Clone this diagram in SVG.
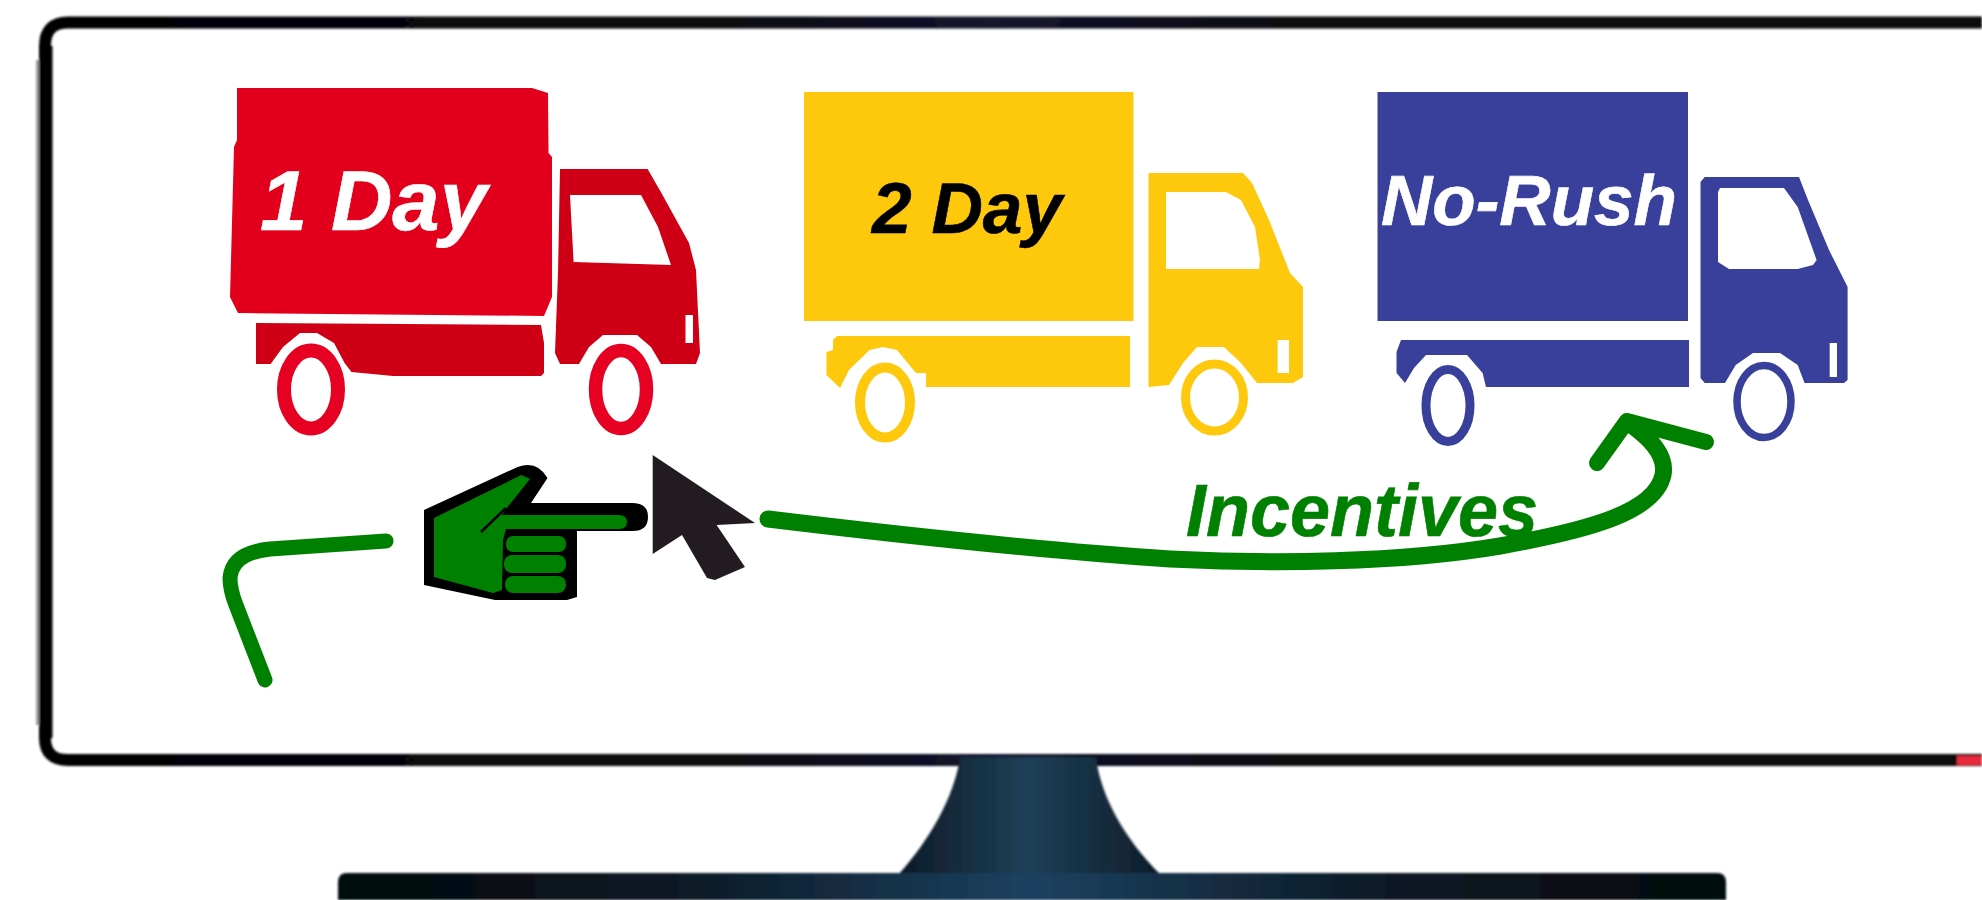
<svg xmlns="http://www.w3.org/2000/svg" width="1982" height="900" viewBox="0 0 1982 900">
<style>
.red{fill:#e2001a}.redd{fill:#cf0012}.yel{fill:#fec80f}.blu{fill:#37409c}
.win{fill:#fff}
.wr{fill:none;stroke:#e60022}.wy{fill:none;stroke:#fec80f}.wb{fill:none;stroke:#37409c}
text{font-family:"Liberation Sans",Arial,sans-serif;font-style:italic;font-weight:bold;text-rendering:geometricPrecision;stroke-width:0.6}
.conn{fill:none;stroke:#008000;stroke-linecap:round;stroke-linejoin:round}
.soft{filter:url(#b1)}.softer{filter:url(#b2)}
</style>
<defs>
<filter id="b1" x="-5%" y="-5%" width="110%" height="110%"><feGaussianBlur stdDeviation="0.7"/></filter>
<filter id="b2" x="-5%" y="-20%" width="110%" height="140%"><feGaussianBlur stdDeviation="1.3"/></filter>
<linearGradient id="foot" x1="338" x2="1726" y1="0" y2="0" gradientUnits="userSpaceOnUse">
<stop offset="0" stop-color="#04070a"/><stop offset="0.25" stop-color="#0b1a26"/><stop offset="0.5" stop-color="#1d4160"/><stop offset="0.75" stop-color="#0c1a26"/><stop offset="1" stop-color="#05080c"/>
</linearGradient>
<linearGradient id="neck" x1="898" x2="1161" y1="0" y2="0" gradientUnits="userSpaceOnUse">
<stop offset="0" stop-color="#0d1a26"/><stop offset="0.5" stop-color="#1e4058"/><stop offset="1" stop-color="#0e1c28"/>
</linearGradient>
<linearGradient id="frame" x1="0" x2="1982" y1="0" y2="0" gradientUnits="userSpaceOnUse">
<stop offset="0" stop-color="#050505"/><stop offset="0.35" stop-color="#08080c"/><stop offset="0.5" stop-color="#14142e"/><stop offset="0.65" stop-color="#0a0a10"/><stop offset="1" stop-color="#0c0c0c"/>
</linearGradient>
</defs>
<rect width="1982" height="900" fill="#fff"/>
<g id="monitor" class="softer">
<rect x="36" y="60" width="5" height="665" fill="#999"/>
<path d="M1982,22.5 H68 Q45,22.5 45,46 V738 Q45,760 68,760 H1982" fill="none" stroke="url(#frame)" stroke-width="12"/>
<line x1="46" y1="46" x2="46" y2="738" stroke="#050505" stroke-width="13"/>
<path d="M960,757 H1096 C1100,795 1125,840 1161,875 L1161,900 H898 V875 C930,840 955,795 960,757 Z" fill="url(#neck)"/>
<path d="M338,900 V882 Q338,873 347,873 H1717 Q1726,873 1726,882 V900 Z" fill="url(#foot)"/>
<rect x="1957" y="756" width="25" height="9" fill="#e8293c"/>
</g>
<g id="truck-1" class="soft">
<polygon class="red" points="237,88 532,88 548,93 548.5,153 552,157 552,297 544,316 238,313 230,297 231,260 234,147 237,140"/>
<polygon class="redd" points="256,323 541,325 544,343 544,373 541,376 393,376 351.5,372 344.6,363 334,343 317,333 300,333 283,347 270.6,364 256,364"/>
<polygon class="redd" points="560,169 647.6,169 661.4,193 689,243 696,270 700,353 696,364 661,364 651,347 637,335 603,335 589,347 579,364 560,364 555,353 558,273"/>
<polygon class="win" points="570,195 641,195 658,227 671,265 573.6,262"/>
<rect class="win" x="685.5" y="315" width="7.5" height="28"/>
<ellipse class="wr" cx="311" cy="389.5" rx="27" ry="39" stroke-width="14"/>
<ellipse class="wr" cx="621" cy="389.5" rx="25.5" ry="39" stroke-width="13.5"/>
<text x="260" y="230" font-size="85" fill="#fff" stroke="#fff" textLength="227" lengthAdjust="spacingAndGlyphs">1 Day</text>
</g>
<g id="truck-2" class="soft">
<rect class="yel" x="804" y="92" width="329.5" height="229"/>
<polygon class="yel" points="837,336 1130,336 1130,387 926,387 926,373 916,373 897,350 883,347 869.5,350 849,370 840,388 826.5,375 826.5,352 833,350 833,340"/>
<polygon class="yel" points="1148.5,173 1243,173 1252,183 1269,220 1290,273 1303,287 1303,377 1293,383 1257,383 1241,363 1224,347 1197,347 1183,363 1169,385 1148.5,387"/>
<polygon class="win" points="1166,192 1226,192 1241,200 1255,227 1260,260 1259,269 1166,269"/>
<rect class="win" x="1277.6" y="340" width="11.4" height="33"/>
<ellipse class="wy" cx="885" cy="402.5" rx="25" ry="35" stroke-width="10"/>
<ellipse class="wy" cx="1214.5" cy="397.5" rx="29" ry="33.5" stroke-width="9"/>
<text x="872" y="233" font-size="72" fill="#000" stroke="#000" textLength="190" lengthAdjust="spacingAndGlyphs">2 Day</text>
</g>
<g id="truck-3" class="soft">
<rect class="blu" x="1377.5" y="92" width="310.5" height="229"/>
<polygon class="blu" points="1401,340 1689,340 1689,387 1486,387 1482.6,373 1467,355 1426,355 1414,368 1405,383 1396.5,373 1396.5,352"/>
<polygon class="blu" points="1704.7,177 1799,177 1808,200 1829,250 1847.6,287 1847.6,380 1844,383 1804.5,383 1797.7,365 1780,353 1753,353 1735.7,365 1725,383 1704.7,383 1700.5,378 1700.5,182"/>
<polygon class="win" points="1718,192 1720,188 1784,188 1797.7,207 1816.6,260 1813,265 1797.7,269 1729,269 1718,262"/>
<rect class="win" x="1829.7" y="343" width="7.3" height="34"/>
<ellipse class="wb" cx="1448" cy="405.5" rx="22" ry="36" stroke-width="9"/>
<ellipse class="wb" cx="1764" cy="401.5" rx="27" ry="36" stroke-width="7.5"/>
<text x="1381" y="225" font-size="71" fill="#fff" stroke="#fff" textLength="296" lengthAdjust="spacingAndGlyphs">No-Rush</text>
</g>
<g id="connectors">
<path class="conn" stroke-width="15" d="M386,541 L270,549 Q232,553 230,578 Q230,590 236,605 L265,680"/>
<path class="conn" stroke-width="17" d="M768,519 C900,535 1050,551 1170,559 C1270,564 1400,563 1500,546 C1590,530 1655,512 1663,475 C1667,455 1650,438 1630,424"/>
<path class="conn" stroke-width="16" d="M1597,463 L1627,421 L1706,442"/>
</g>
<g id="hand" class="soft">
<path fill="#000" d="M424,510 L517.6,467 Q537,460 547.5,478 L531,503 H632.5 Q648,503 648,517 Q648,531 632.5,531 H577 V597 L567,600 H495 L424,585 Z"/>
<path fill="#008000" d="M434,518 L521.5,475 L530,479 L506,509 L502,515 H619 Q627,515 627,522 Q627,529 619,529 H506 L503,540 L502,590 L493,593 L434,577 Z"/>
<path d="M506,508 L481,532" stroke="#000" stroke-width="2.5" fill="none"/>
<rect x="506" y="536" width="60" height="16" rx="7" fill="#008000"/>
<rect x="504" y="555" width="62" height="18" rx="8" fill="#008000"/>
<rect x="505" y="576" width="61" height="17" rx="8" fill="#008000"/>
</g>
<g id="cursor" class="soft">
<polygon fill="#231f20" points="652.7,455 755,523 716.6,525 745,567 715,580 707,578 682,535 652.7,554"/>
</g>
<g id="label">
<text x="1186" y="536" font-size="74" fill="#008000" stroke="#008000" textLength="352" lengthAdjust="spacingAndGlyphs">Incentives</text>
</g>
</svg>
